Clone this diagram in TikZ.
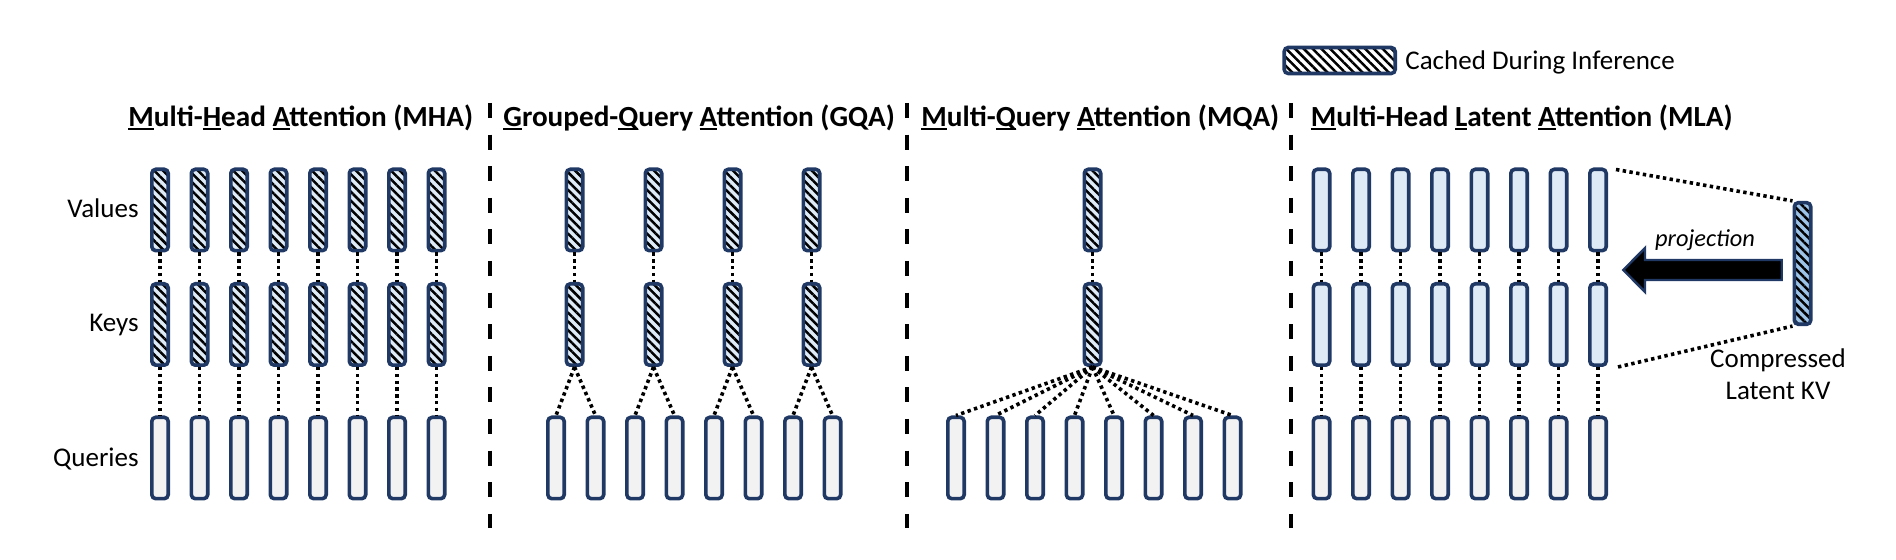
\documentclass[tikz,border=0pt]{standalone}
\usepackage{fontspec}
\setmainfont{Carlito}
\usetikzlibrary{patterns.meta}
\definecolor{navy}{HTML}{203864}
\definecolor{qgray}{HTML}{F2F2F2}
\definecolor{lblue}{HTML}{DEEBF7}
\definecolor{mblue}{HTML}{9DC3E6}
\newcommand\ulc[1]{\setbox0\hbox{#1}\rlap{\rule[-1.9pt]{\wd0}{1.1pt}}#1}
\begin{document}
\begin{tikzpicture}[x=0.5pt,y=-0.5pt,
  cell/.style={rectangle, rounded corners=2pt, draw=navy, line width=1.8pt,
    minimum width=8.2pt, minimum height=40.7pt, inner sep=0pt},
  qcell/.style={cell, fill=qgray},
  lcell/.style={cell, fill=lblue},
  hatched/.style={pattern={Lines[angle=-45,distance=3.1pt,line width=1.25pt]}, pattern color=black},
  hcell/.style={cell, preaction={fill=lblue}, hatched},
  link/.style={line width=1.8pt, dash pattern=on 1.7pt off 1.7pt, black},
  sep/.style={line width=2pt, dash pattern=on 7.5pt off 8.3pt, black},
  ttl/.style={anchor=base west, inner sep=0pt, font=\fontsize{14.6}{18}\selectfont\bfseries},
  lbl/.style={anchor=base east, inner sep=0pt, font=\fontsize{13.5}{16}\selectfont},
]
\useasboundingbox (0,0) rectangle (1896,560);

% separators
\draw[sep] (490,103) -- (490,528);
\draw[sep] (906.5,103) -- (906.5,528);
\draw[sep] (1291,103) -- (1291,528);

% titles
\node[ttl] (tMHA) at (128,126.5) {\ulc{M}ulti-\ulc{H}ead \ulc{A}ttention (MHA)};
\node[ttl] (tGQA) at (503,126.5) {\ulc{G}rouped-\ulc{Q}uery \ulc{A}ttention (GQA)};
\node[ttl] (tMQA) at (921,126.5) {\ulc{M}ulti-\ulc{Q}uery \ulc{A}ttention (MQA)};
\node[ttl] (tMLA) at (1310.5,126.5) {\ulc{M}ulti-Head \ulc{L}atent \ulc{A}ttention (MLA)};

% row labels
\node[lbl] (lV) at (139,218) {Values};
\node[lbl] (lK) at (139,332) {Keys};
\node[lbl] (lQ) at (139,466.5) {Queries};

% legend
\node[cell, minimum width=55.5pt, minimum height=13pt, preaction={fill=white}, hatched] (leg) at (1339.7,60.5) {};
\node[lbl, anchor=base west] (legT) at (1405,69.5) {Cached During Inference};

% MHA
\foreach \i in {1,...,8} {
  \pgfmathsetmacro\xx{160+39.5*(\i-1)}
  \node[hcell] (mhaV\i) at (\xx,210) {};
  \node[hcell] (mhaK\i) at (\xx,324.5) {};
  \node[qcell] (mhaQ\i) at (\xx,458) {};
  \draw[link] (mhaV\i) -- (mhaK\i);
  \draw[link] (mhaK\i) -- (mhaQ\i);
}

% GQA
\foreach \j in {1,...,4} {
  \pgfmathsetmacro\xx{574.5+79*(\j-1)}
  \node[hcell] (gqaV\j) at (\xx,210) {};
  \node[hcell] (gqaK\j) at (\xx,324.5) {};
  \draw[link] (gqaV\j) -- (gqaK\j);
}
\foreach \i in {1,...,8} {
  \pgfmathsetmacro\xx{556+39.5*(\i-1)}
  \node[qcell] (gqaQ\i) at (\xx,458) {};
}
\foreach \i/\j in {1/1,2/1,3/2,4/2,5/3,6/3,7/4,8/4}
  \draw[link] (gqaK\j.south) -- (gqaQ\i.north);

% MQA
\node[hcell] (mqaV) at (1092.5,210) {};
\node[hcell] (mqaK) at (1092.5,324.5) {};
\draw[link] (mqaV) -- (mqaK);
\foreach \i in {1,...,8} {
  \pgfmathsetmacro\xx{956+39.5*(\i-1)}
  \node[qcell] (mqaQ\i) at (\xx,458) {};
  \draw[link] (mqaK.south) -- (mqaQ\i.north);
}

% MLA
\foreach \i in {1,...,8} {
  \pgfmathsetmacro\xx{1321.5+39.5*(\i-1)}
  \node[lcell] (mlaV\i) at (\xx,210) {};
  \node[lcell] (mlaK\i) at (\xx,324.5) {};
  \node[qcell] (mlaQ\i) at (\xx,458) {};
  \draw[link] (mlaV\i) -- (mlaK\i);
  \draw[link] (mlaK\i) -- (mlaQ\i);
}

% latent
\node[cell, minimum height=60.8pt, preaction={fill=mblue}, hatched] (lat) at (1802.5,263.5) {};
\draw[link] ([xshift=4pt,yshift=-1pt]mlaV8.north east) -- (lat.north west);
\draw[link] ([xshift=5pt]mlaK8.south east) -- (lat.south west);

% projection arrow
\draw[fill=black, draw=navy, line width=1.2pt] (1623.3,270) -- (1645,248) -- (1645,260) -- (1781.7,260)
  -- (1781.7,280) -- (1645,280) -- (1645,292) -- cycle;
\node[anchor=base, inner sep=0pt, font=\fontsize{12.2}{14}\selectfont\itshape] (proj) at (1705,247) {projection};

\node[anchor=base, inner sep=0pt, font=\fontsize{13.5}{16}\selectfont] (cmp1) at (1778,367.3) {Compressed};
\node[anchor=base, inner sep=0pt, font=\fontsize{13.5}{16}\selectfont] (cmp2) at (1778,400) {Latent KV};
\end{tikzpicture}
\end{document}
